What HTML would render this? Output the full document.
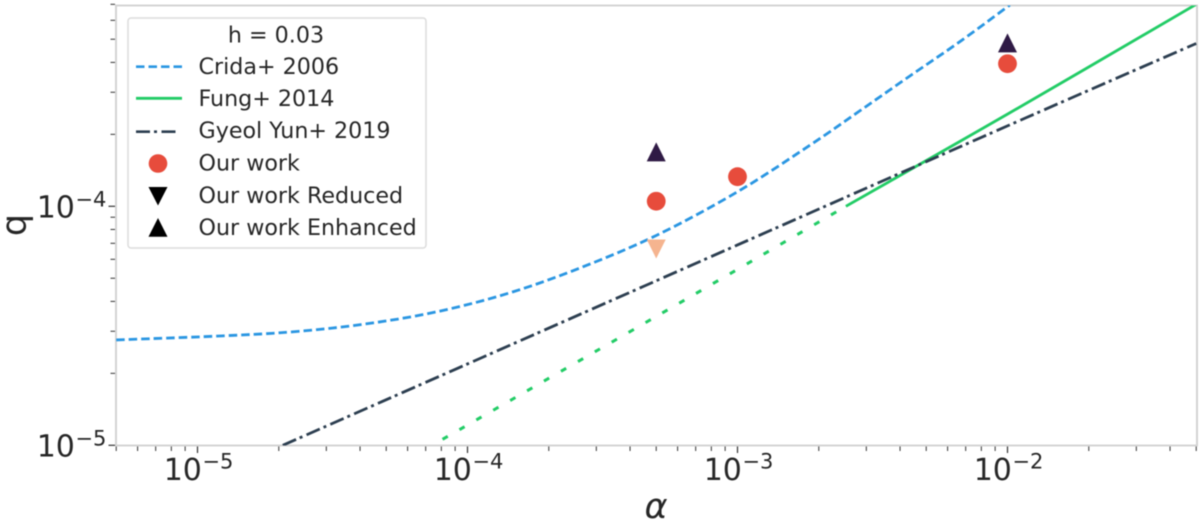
<!DOCTYPE html>
<html lang="en">
<head>
<meta charset="utf-8">
<title>q versus alpha</title>
<style>
html,body{margin:0;padding:0;background:#fff;width:1200px;height:528px;overflow:hidden}
svg{display:block;filter:blur(0.4px)}
text{font-family:"DejaVu Sans","Liberation Sans",sans-serif;fill:#262626}
</style>
</head>
<body>
<svg id="chart" xmlns="http://www.w3.org/2000/svg" width="1200" height="528" viewBox="0 0 1200 528">
  <defs><clipPath id="plot-clip"><rect x="116" y="5.5" width="1081.5" height="440"/></clipPath></defs>
  <g id="grid-layer"></g>
  <g id="series-layer" clip-path="url(#plot-clip)"></g>
  <g id="marker-layer"></g>
  <g id="legend">
    <rect x="128" y="18" width="298" height="230" rx="3" fill="#fff" stroke="#dcdcdc" stroke-width="1.5"/>
    <text x="276" y="42.3" font-size="22.2" text-anchor="middle">h = 0.03</text>
    <line x1="136" y1="66.7" x2="182" y2="66.7" stroke="#2a96e2" stroke-width="2.6" stroke-dasharray="8.5 4"/>
    <text x="198.5" y="74" font-size="22.2">Crida+ 2006</text>
    <line x1="136" y1="98.3" x2="182" y2="98.3" stroke="#22cc66" stroke-width="2.8"/>
    <text x="198.5" y="106" font-size="22.2">Fung+ 2014</text>
    <line x1="136" y1="131.7" x2="178" y2="131.7" stroke="#2c3e50" stroke-width="2.6" stroke-dasharray="14 4 3 4.5"/>
    <text x="198.5" y="138" font-size="22.2">Gyeol Yun+ 2019</text>
    <circle cx="158" cy="163.5" r="9.3" fill="#e74c3c"/>
    <text x="198.5" y="170.7" font-size="22.2">Our work</text>
    <polygon points="148.5,187 167.5,187 158,205.5" fill="#000"/>
    <text x="198.5" y="203" font-size="22.2">Our work Reduced</text>
    <polygon points="158,218 167.5,236.7 148.5,236.7" fill="#000"/>
    <text x="198.5" y="235" font-size="22.2">Our work Enhanced</text>
  </g>
  <text x="656" y="518" font-size="35" font-style="italic" text-anchor="middle">α</text>
  <text transform="translate(26,225) rotate(-90)" font-size="35" text-anchor="middle">q</text>
</svg>
<script>
// Axis limits and ticks
const xMajorTicks = [1e-5, 1e-4, 1e-3, 1e-2];
const xMajorExponents = ['−5', '−4', '−3', '−2'];
const xMinorTicks = [5e-6,6e-6,7e-6,8e-6,9e-6,2e-5,3e-5,4e-5,5e-5,6e-5,7e-5,8e-5,9e-5,2e-4,3e-4,4e-4,5e-4,6e-4,7e-4,8e-4,9e-4,2e-3,3e-3,4e-3,5e-3,6e-3,7e-3,8e-3,9e-3,2e-2,3e-2,4e-2,5e-2];
const yMajorTicks = [1e-5, 1e-4];
const yMajorExponents = ['−5', '−4'];
const yMinorTicks = [2e-5,3e-5,4e-5,5e-5,6e-5,7e-5,8e-5,9e-5,2e-4,3e-4,4e-4,5e-4,6e-4,7e-4];

// Series
const cridaAlpha = [5e-6, 1.24e-5, 2.3e-5, 4.2e-5, 7.7e-5, 1.43e-4, 2.61e-4, 5e-4, 1e-3, 1.86e-3, 2.84e-3, 4.35e-3, 6.67e-3, 1.02e-2];
const cridaQ = [2.76e-5, 2.87e-5, 2.99e-5, 3.22e-5, 3.62e-5, 4.34e-5, 5.52e-5, 7.55e-5, 1.15e-4, 1.805e-4, 2.51e-4, 3.51e-4, 4.89e-4, 6.95e-4];
const fungSolidAlpha = [2.52e-3, 1e-2, 5e-2];
const fungSolidQ = [1e-4, 2.43e-4, 7e-4];
const fungDottedAlpha = [7.4e-5, 5e-4, 2.52e-3];
const fungDottedQ = [1e-5, 3.46e-5, 1e-4];
const yunAlpha = [2.07e-5, 1e-4, 1e-3, 1e-2, 5e-2];
const yunQ = [1e-5, 2.19e-5, 6.89e-5, 2.17e-4, 4.8e-4];
const ourWorkAlpha = [5e-4, 1e-3, 1e-2];
const ourWorkQ = [1.05e-4, 1.33e-4, 3.95e-4];
const reducedAlpha = [5e-4];
const reducedQ = [6.63e-5];
const enhancedAlpha = [5e-4, 1e-2];
const enhancedQ = [1.69e-4, 4.83e-4];

const NS = 'http://www.w3.org/2000/svg';
const X0 = 197.5, X_DEC = 270, Y0 = 445.3, Y_DEC = 239;
const LEFT = 116, RIGHT = 1197, TOP = 5.5, BOTTOM = 445.5;
function xScale(a) { return X0 + (Math.log10(a) + 5) * X_DEC; }
function yScale(q) { return Y0 - (Math.log10(q) + 5) * Y_DEC; }
function make(tag, attrs, parent) {
  const el = document.createElementNS(NS, tag);
  for (const k in attrs) el.setAttribute(k, attrs[k]);
  parent.appendChild(el);
  return el;
}
function linePath(xs, ys) {
  const p = xs.map((a, i) => [xScale(a), yScale(ys[i])]);
  let d = 'M' + p[0][0] + ' ' + p[0][1];
  for (let i = 0; i < p.length - 1; i++) {
    const a = p[Math.max(i - 1, 0)], b = p[i], c = p[i + 1], e = p[Math.min(i + 2, p.length - 1)];
    d += ' C' + (b[0] + (c[0] - a[0]) / 6) + ' ' + (b[1] + (c[1] - a[1]) / 6) + ' ' +
         (c[0] - (e[0] - b[0]) / 6) + ' ' + (c[1] - (e[1] - b[1]) / 6) + ' ' + c[0] + ' ' + c[1];
  }
  return d;
}
const axes = document.getElementById('grid-layer');
const seriesLayer = document.getElementById('series-layer');
const markerLayer = document.getElementById('marker-layer');

const frame = make('rect', {x: LEFT, y: TOP, width: RIGHT - LEFT, height: BOTTOM - TOP, fill: 'none', stroke: '#d4d4d4', 'stroke-width': 2}, axes);



xMinorTicks.forEach(function (t) {
  const x = xScale(t);
  const tick = make('line', {x1: x, x2: x, y1: BOTTOM + 1, y2: BOTTOM + 5.5, stroke: '#333', 'stroke-width': 1}, axes);
  
  
});
xMajorTicks.forEach(function (t, i) {
  const x = xScale(t);
  const tick = make('line', {x1: x, x2: x, y1: BOTTOM + 1, y2: BOTTOM + 7.5, stroke: '#333', 'stroke-width': 1.2}, axes);
  
  
  const label = make('text', {x: x - 33.8, y: 480, 'font-size': 30}, axes);
  
  
  label.appendChild(document.createTextNode('10'));
  const sup = make('tspan', {'font-size': 21, dy: -11.7, dx: 0.5}, label);
  sup.textContent = xMajorExponents[i];
});
yMinorTicks.forEach(function (t) {
  const y = yScale(t);
  const tick = make('line', {x1: LEFT - 1, x2: LEFT - 5.5, y1: y, y2: y, stroke: '#333', 'stroke-width': 1}, axes);
  
  
});
yMajorTicks.forEach(function (t, i) {
  const y = yScale(t);
  const tick = make('line', {x1: LEFT - 1, x2: LEFT - 7.5, y1: y, y2: y, stroke: '#333', 'stroke-width': 1.2}, axes);
  
  
  const label = make('text', {x: 36.7, y: y + 11, 'font-size': 30}, axes);
  
  
  label.appendChild(document.createTextNode('10'));
  const sup = make('tspan', {'font-size': 21, dy: -11, dx: 0.5}, label);
  sup.textContent = yMajorExponents[i];
});

const crida = make('path', {d: linePath(cridaAlpha, cridaQ), fill: 'none', stroke: '#2a96e2', 'stroke-width': 2.8, 'stroke-dasharray': '8.5 4'}, seriesLayer);


const fungDotted = make('path', {d: linePath(fungDottedAlpha, fungDottedQ), fill: 'none', stroke: '#22cc66', 'stroke-width': 3, 'stroke-dasharray': '6 13.5', 'stroke-dashoffset': -12}, seriesLayer);


const fungSolid = make('path', {d: linePath(fungSolidAlpha, fungSolidQ), fill: 'none', stroke: '#22cc66', 'stroke-width': 2.8}, seriesLayer);


const yun = make('path', {d: linePath(yunAlpha, yunQ), fill: 'none', stroke: '#2c3e50', 'stroke-width': 2.8, 'stroke-dasharray': '14.5 4 3 4.5'}, seriesLayer);



ourWorkAlpha.forEach(function (a, i) {
  const m = make('circle', {cx: xScale(a), cy: yScale(ourWorkQ[i]), r: 9.4, fill: '#e74c3c'}, markerLayer);
  
  
});
reducedAlpha.forEach(function (a, i) {
  const x = xScale(a), y = yScale(reducedQ[i]);
  const m = make('polygon', {points: (x - 9.5) + ',' + (y - 9.5) + ' ' + (x + 9.5) + ',' + (y - 9.5) + ' ' + x + ',' + (y + 9.5), fill: '#f5b48f'}, markerLayer);
  
  
});
enhancedAlpha.forEach(function (a, i) {
  const x = xScale(a), y = yScale(enhancedQ[i]);
  const m = make('polygon', {points: x + ',' + (y - 9.5) + ' ' + (x + 9.5) + ',' + (y + 9.5) + ' ' + (x - 9.5) + ',' + (y + 9.5), fill: '#2f1a45'}, markerLayer);
  
  
});
</script>
</body>
</html>
